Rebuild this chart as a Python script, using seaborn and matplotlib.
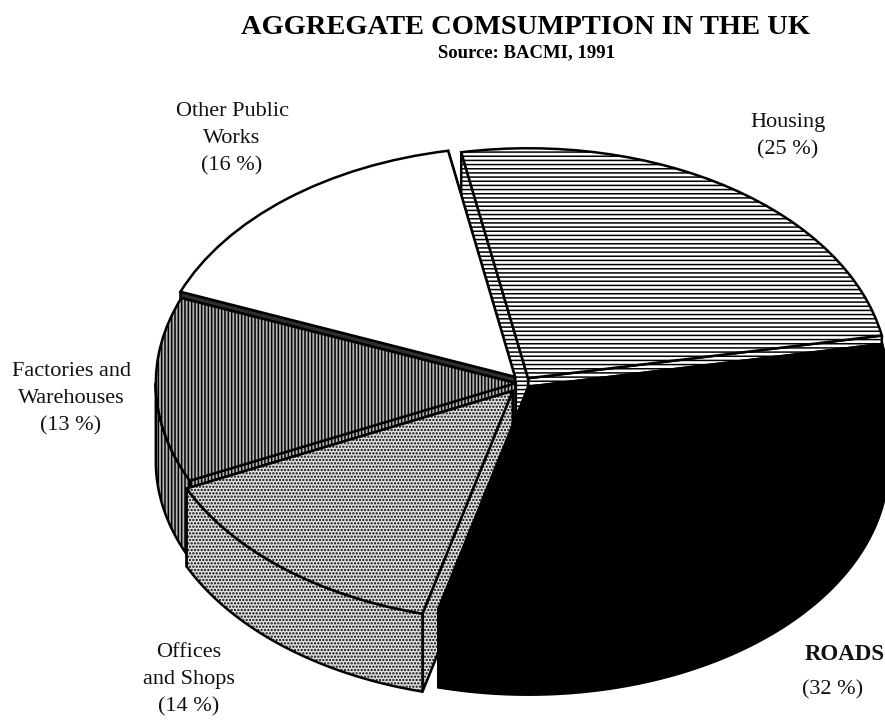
import numpy as np
import seaborn as sns
import matplotlib.pyplot as plt

# Aggregate consumption shares, as printed on the chart
names = ['Housing', 'Other Public\nWorks', 'Factories and\nWarehouses', 'Offices\nand Shops', 'ROADS']
shares = [25, 16, 13, 14, 32]
explode = [0.025, 0.035, 0.02, 0.045, 0.022]
top_colors = ['white', 'white', '#b4b4b4', '#e2e2e2', 'black']
cut_colors = ['white', '#2e2e2e', '#b4b4b4', '#e2e2e2', 'black']
hatches = ['----', '', '|||||', '.....', '']

# pixel layout of the tilted pie
W, H = 885, 724
RX, RY = 360, 230
CX, CY = 523, 383
DEPTH = 78

sns.set_theme(style='white')
plt.rcParams['font.family'] = ['Liberation Serif', 'DejaVu Serif']
plt.rcParams['hatch.linewidth'] = 1.1

fig = plt.figure(figsize=(W / 100, H / 100), dpi=100, facecolor='white')
ax = fig.add_axes([0, 0, 1, 1])

wedges, _ = ax.pie(shares, explode=explode, colors=top_colors, hatch=hatches,
                   startangle=10.7, radius=1, center=(CX / RX, -CY / RY),
                   wedgeprops={'edgecolor': 'black', 'linewidth': 1.8})

# sets the squash: one pie radius is RX pixels across and RY pixels down
ax.set_aspect('auto')
ax.set_xlim(0, W / RX)
ax.set_ylim(-H / RY, 0)
ax.axis('off')

drop = DEPTH / RY


def add_side(xs, ys, color, hatch, z):
    ax.fill(xs, ys, facecolor=color, hatch=hatch, edgecolor='black',
            linewidth=1.8, zorder=z, joinstyle='round')


# walls are drawn back to front, each slice covers the one behind it
for i, w in enumerate(wedges):
    z = 2 * i + 2
    w.set_zorder(z + 1)
    cx, cy = w.center
    ends = np.radians([w.theta1, w.theta2])
    # the two cut faces first, the outer wall goes over them
    for a in ends:
        add_side([cx, cx + np.cos(a), cx + np.cos(a), cx],
                 [cy, cy + np.sin(a), cy + np.sin(a) - drop, cy - drop],
                 cut_colors[i], hatches[i], z)
    # only the front half of the rim shows
    lo, hi = max(w.theta1, 180), min(w.theta2, 360)
    if hi > lo:
        t = np.radians(np.linspace(lo, hi, 120))
        rim_x = cx + np.cos(t)
        rim_y = cy + np.sin(t)
        add_side(np.r_[rim_x, rim_x[::-1]], np.r_[rim_y, rim_y[::-1] - drop], top_colors[i], hatches[i], z)

fig.text(526 / W, 1 - 27 / H, 'AGGREGATE COMSUMPTION IN THE UK', ha='center', va='center',
         fontsize=20.5, fontweight='bold', color='black')
fig.text(526 / W, 1 - 53 / H, 'Source: BACMI, 1991', ha='center', va='center',
         fontsize=13.5, fontweight='bold', color='black')

label_kw = dict(ha='center', va='center', fontsize=16, color='#111111', linespacing=1.58)
fig.text(232 / W, 1 - 139 / H, names[1] + '\n(%d %%)' % shares[1], **label_kw)
fig.text(788 / W, 1 - 136 / H, names[0] + '\n(%d %%)' % shares[0], **label_kw)
fig.text(71 / W, 1 - 399 / H, names[2] + '\n(%d %%)' % shares[2], **label_kw)
fig.text(189 / W, 1 - 680 / H, names[3] + '\n(%d %%)' % shares[3], **label_kw)
fig.text(885 / W, 1 - 654 / H, names[4], ha='right', va='center', fontsize=16.5, fontweight='bold', color='#111111')
fig.text(833 / W, 1 - 690 / H, '(%d %%)' % shares[4], ha='center', va='center', fontsize=16, color='#111111')

fig.savefig('out.png', dpi=100)
